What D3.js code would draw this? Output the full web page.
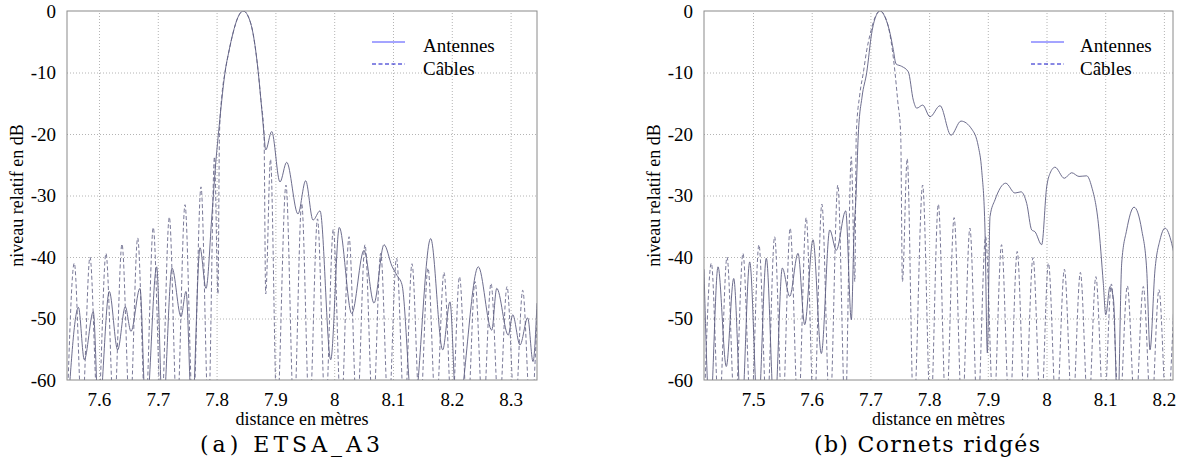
<!DOCTYPE html>
<html>
<head>
<meta charset="utf-8">
<script src="https://cdn.jsdelivr.net/npm/d3@7"></script>
<style>
  body { margin: 0; background: #fff; }
  svg text { font-family: "Liberation Serif", "Times New Roman", serif; fill: #000; }
</style>
</head>
<body>
<div id="chart"></div>
<script>
// tick values
var yTicks = [0, -10, -20, -30, -40, -50, -60];
var xTicksA = [7.6, 7.7, 7.8, 7.9, 8, 8.1, 8.2, 8.3];
var xTicksB = [7.5, 7.6, 7.7, 7.8, 7.9, 8, 8.1, 8.2];

var seriesNames = ["Antennes", "Câbles"];
var captions = ["(a) ETSA_A3", "(b) Cornets ridgés"];
var xTitle = "distance en mètres";
var yTitle = "niveau relatif en dB";

// (a) ETSA_A3 : [distance m, niveau dB]
var antennesA = [
  [7.5464, -66], [7.5651, -48.2], [7.5750, -56.7], [7.5903, -48.9], [7.5995, -66],
  [7.6175, -45.6], [7.6318, -55.1], [7.6447, -48.1], [7.6544, -52.1], [7.6697, -45.1],
  [7.6799, -66], [7.6981, -41.6], [7.7083, -66], [7.7242, -41.8], [7.7395, -49.7],
  [7.7480, -45.6], [7.7582, -66], [7.7718, -38.5], [7.7820, -45.1], [7.7922, -33],
  [7.7990, -24.2], [7.8041, -19], [7.8087, -14.6], [7.8143, -10], [7.8211, -6.5],
  [7.8279, -3.6], [7.8364, -1], [7.8454, 0], [7.8543, -1], [7.8619, -3.6],
  [7.8709, -10], [7.8755, -14.6], [7.8806, -20], [7.8835, -22.6], [7.8937, -19.6],
  [7.9078, -27.8], [7.9192, -24.6], [7.9384, -33], [7.9515, -27.6], [7.9640, -34],
  [7.9759, -32.5], [7.9941, -56.7], [8.0087, -35.2], [8.0298, -49.2], [8.0507, -38.9],
  [8.0677, -47.5], [8.0847, -38], [8.0983, -41.5], [8.1068, -43], [8.1153, -44.5],
  [8.1340, -66], [8.1641, -37.0], [8.1845, -55.1], [8.1969, -47.3], [8.2083, -66],
  [8.2451, -41.6], [8.2679, -51.9], [8.2764, -45.1], [8.2961, -52.7], [8.3036, -49.4],
  [8.3160, -54.3], [8.3291, -49.9], [8.3381, -57], [8.3449, -47.5]
];
var cablesA = [
  [7.5456, -66], [7.5580, -41.0], [7.5711, -66], [7.5847, -40.0], [7.5983, -66],
  [7.6119, -39.4], [7.6255, -66], [7.6391, -37.9], [7.6527, -66], [7.6658, -36.9],
  [7.6791, -66], [7.6923, -35.2], [7.7060, -66], [7.7196, -33.5], [7.7327, -66],
  [7.7463, -31.5], [7.7599, -66], [7.7735, -28.6], [7.7862, -66], [7.7964, -23.7],
  [7.8024, -46], [7.8049, -20], [7.8092, -13.5], [7.8143, -10], [7.8211, -6.5],
  [7.8279, -3.6], [7.8364, -1], [7.8454, 0], [7.8543, -1], [7.8619, -3.6],
  [7.8709, -10], [7.8755, -14.6], [7.8806, -20], [7.8835, -46], [7.8917, -24.1],
  [7.9027, -66], [7.9180, -28.3], [7.9316, -66], [7.9447, -31.3], [7.9580, -66],
  [7.9716, -33.8], [7.9852, -66], [7.9985, -35.5], [8.0116, -66], [8.0252, -36.7],
  [8.0388, -66], [8.0524, -38.0], [8.0660, -66], [8.0791, -39.4], [8.0924, -66],
  [8.1060, -40.2], [8.1196, -66], [8.1323, -41.1], [8.1459, -66], [8.1595, -41.8],
  [8.1731, -66], [8.1867, -42.5], [8.2003, -66], [8.2131, -43.2], [8.2267, -66],
  [8.2395, -44.0], [8.2531, -66], [8.2667, -44.3], [8.2803, -66], [8.2939, -44.8],
  [8.3075, -66], [8.3206, -45.4], [8.3339, -66], [8.3466, -46]
];

// (b) Cornets ridgés
var antennesB = [
  [7.4165, -42], [7.4267, -66], [7.4404, -41.6], [7.4545, -57.8], [7.4671, -43.5],
  [7.4804, -66], [7.4944, -40.8], [7.5085, -66], [7.5227, -40.2], [7.5366, -66],
  [7.5499, -41.8], [7.5625, -46.4], [7.5767, -39.4], [7.5881, -51], [7.6022, -37.2],
  [7.6164, -55.7], [7.6307, -35.6], [7.6419, -38.9], [7.6579, -32.5], [7.6675, -50.2],
  [7.6721, -36], [7.6755, -30], [7.6794, -20], [7.6857, -14], [7.6937, -10],
  [7.7022, -3.6], [7.7087, -1], [7.7164, 0], [7.7249, -1], [7.7334, -3.6],
  [7.7390, -6.3], [7.7436, -8.6], [7.7533, -9.0], [7.7646, -9.9], [7.7731, -14.5],
  [7.7789, -15.8], [7.7891, -15.3], [7.8015, -17.2], [7.8186, -15.4], [7.8373, -20.2],
  [7.8543, -17.9], [7.8726, -19.2], [7.8838, -22], [7.8896, -25.9], [7.8952, -35.6],
  [7.8992, -55.6], [7.9038, -33.4], [7.9123, -30.7], [7.9305, -28.0], [7.9463, -29.6],
  [7.9566, -29.4], [7.9663, -31.3], [7.9748, -35.6], [7.9804, -35.9], [7.9918, -38.0],
  [8.0003, -28.6], [8.0060, -26.4], [8.0145, -25.4], [8.0303, -27.2], [8.0429, -26.3],
  [8.0554, -26.9], [8.0685, -26.8], [8.0770, -28.6], [8.0883, -34.5], [8.0968, -44.3],
  [8.1009, -49.4], [8.1082, -44.8], [8.1142, -47], [8.1213, -66], [8.1281, -41.0],
  [8.1366, -35.6], [8.1491, -31.9], [8.1622, -35.6], [8.1707, -42.1], [8.1763, -55.1],
  [8.1848, -42.1], [8.1934, -37.2], [8.2019, -35.3], [8.2133, -37.8], [8.2172, -39.5]
];
var cablesB = [
  [7.4166, -66], [7.4290, -41.0], [7.4421, -66], [7.4557, -40.0], [7.4693, -66],
  [7.4829, -39.4], [7.4965, -66], [7.5101, -38.0], [7.5237, -66], [7.5368, -36.7],
  [7.5501, -66], [7.5633, -35.3], [7.5770, -66], [7.5906, -33.6], [7.6037, -66],
  [7.6173, -31.4], [7.6309, -66], [7.6445, -28.3], [7.6572, -66], [7.6674, -23.7],
  [7.6734, -44], [7.6759, -20], [7.6820, -13.5], [7.6880, -10], [7.6935, -6.5],
  [7.7000, -3.6], [7.7080, -1], [7.7164, 0], [7.7253, -1], [7.7329, -3.6],
  [7.7419, -10], [7.7465, -14.6], [7.7516, -20], [7.7545, -44], [7.7627, -24.0],
  [7.7737, -66], [7.7890, -28.3], [7.8026, -66], [7.8157, -31.4], [7.8290, -66],
  [7.8426, -33.6], [7.8562, -66], [7.8695, -35.3], [7.8826, -66], [7.8962, -36.7],
  [7.9098, -66], [7.9234, -38.0], [7.9370, -66], [7.9501, -39.1], [7.9634, -66],
  [7.9770, -40.1], [7.9906, -66], [8.0033, -41.0], [8.0169, -66], [8.0305, -42.0],
  [8.0441, -66], [8.0577, -42.5], [8.0713, -66], [8.0841, -43.2], [8.0977, -66],
  [8.1105, -44.4], [8.1241, -66], [8.1377, -44.7], [8.1513, -66], [8.1649, -44.8],
  [8.1785, -66], [8.1916, -45.3], [8.2049, -66], [8.2176, -46]
];

var W = 1187, H = 476;
var svg = d3.select("#chart").append("svg")
    .attr("width", W)
    .attr("height", H);

var panels = [
  {left: 67, right: 537, xDomain: [7.5456, 8.3449], xTicks: xTicksA,
   antennes: antennesA, cables: cablesA, caption: captions[0], capX: 290, capW: 180,
   legX: 372, legTextX: 423},
  {left: 704, right: 1173, xDomain: [7.4165, 8.2155], xTicks: xTicksB,
   antennes: antennesB, cables: cablesB, caption: captions[1], capX: 927, capW: 226,
   legX: 1031, legTextX: 1080}
];
var plotTop = 11, plotBottom = 380;

panels.forEach(function(p, i) {
  var w = p.right - p.left, h = plotBottom - plotTop;
  var g = svg.append("g").attr("transform", "translate(" + p.left + "," + plotTop + ")");

  var x = d3.scaleLinear().domain(p.xDomain).range([0, w]);
  var y = d3.scaleLinear().domain([-60, 0]).range([h, 0]);

  // dotted grid
  g.append("g")
    .attr("class", "grid")
    .call(d3.axisLeft(y).tickValues(yTicks.slice(1, -1)).tickSize(-w).tickFormat(""))
    .call(s => s.select(".domain").remove())
    .selectAll("line").attr("stroke", "#b4b4b4").attr("stroke-dasharray", "1,2");
  g.append("g")
    .attr("class", "grid")
    .attr("transform", "translate(0," + h + ")")
    .call(d3.axisBottom(x).tickValues(p.xTicks).tickSize(-h).tickFormat(""))
    .call(s => s.select(".domain").remove())
    .selectAll("line").attr("stroke", "#b4b4b4").attr("stroke-dasharray", "1,2");

  // clip for curves
  g.append("clipPath").attr("id", "clip" + i)
    .append("rect").attr("width", w).attr("height", h);

  var line = d3.line()
    .x(d => x(d[0]))
    .y(d => y(d[1]))
    .curve(d3.curveMonotoneX);

  g.append("path")
    .datum(p.cables)
    .attr("clip-path", "url(#clip" + i + ")")
    .attr("d", line)
    .style("fill", "none")
    .style("stroke", "#6a6a8c")
    .style("stroke-width", "0.9px")
    .style("stroke-dasharray", "4,2.5");

  g.append("path")
    .datum(p.antennes)
    .attr("clip-path", "url(#clip" + i + ")")
    .attr("d", line)
    .style("fill", "none")
    .style("stroke", "#5c5c80")
    .style("stroke-width", "0.9px");

  // frame
  g.append("rect")
    .attr("width", w).attr("height", h)
    .style("fill", "none").style("stroke", "#8a8a8a").style("stroke-width", "1px");

  // tick labels
  g.append("g")
    .call(d3.axisLeft(y).tickValues(yTicks).tickSize(0).tickPadding(11).tickFormat(d => String(d)))
    .call(s => s.select(".domain").remove())
    .selectAll("text").style("font-size", "19px").style("font-family", "Liberation Serif");
  g.append("g")
    .attr("transform", "translate(0," + h + ")")
    .call(d3.axisBottom(x).tickValues(p.xTicks).tickSize(0).tickPadding(12.5).tickFormat(d => String(d)))
    .call(s => s.select(".domain").remove())
    .selectAll("text").style("font-size", "19px").style("font-family", "Liberation Serif");

  // axis titles
  g.append("text")
    .attr("x", w / 2).attr("y", h + 45)
    .attr("text-anchor", "middle")
    .style("font-size", "18px")
    .text(xTitle);
  g.append("text")
    .attr("transform", "translate(-44," + (h / 2) + ") rotate(-90)")
    .attr("text-anchor", "middle")
    .style("font-size", "18px")
    .text(yTitle);

  // legend
  var lg = svg.append("g");
  lg.append("line")
    .attr("x1", p.legX).attr("x2", p.legX + 33).attr("y1", 42).attr("y2", 42)
    .style("stroke", "#4a4aff").style("stroke-width", "1px");
  lg.append("line")
    .attr("x1", p.legX).attr("x2", p.legX + 33).attr("y1", 64).attr("y2", 64)
    .style("stroke", "#1010c8").style("stroke-width", "1px").style("stroke-dasharray", "4,2.5");
  lg.selectAll("text")
    .data(seriesNames)
    .enter()
    .append("text")
    .attr("x", p.legTextX)
    .attr("y", (d, k) => 52 + k * 23)
    .style("font-size", "19px")
    .text(d => d);

  // caption
  svg.append("text")
    .attr("x", p.capX).attr("y", 452)
    .attr("text-anchor", "middle")
    .attr("textLength", p.capW)
    .attr("lengthAdjust", "spacing")
    .style("font-family", "DejaVu Serif")
    .style("font-size", "22px")
    .text(p.caption);
});
</script>
</body>
</html>
